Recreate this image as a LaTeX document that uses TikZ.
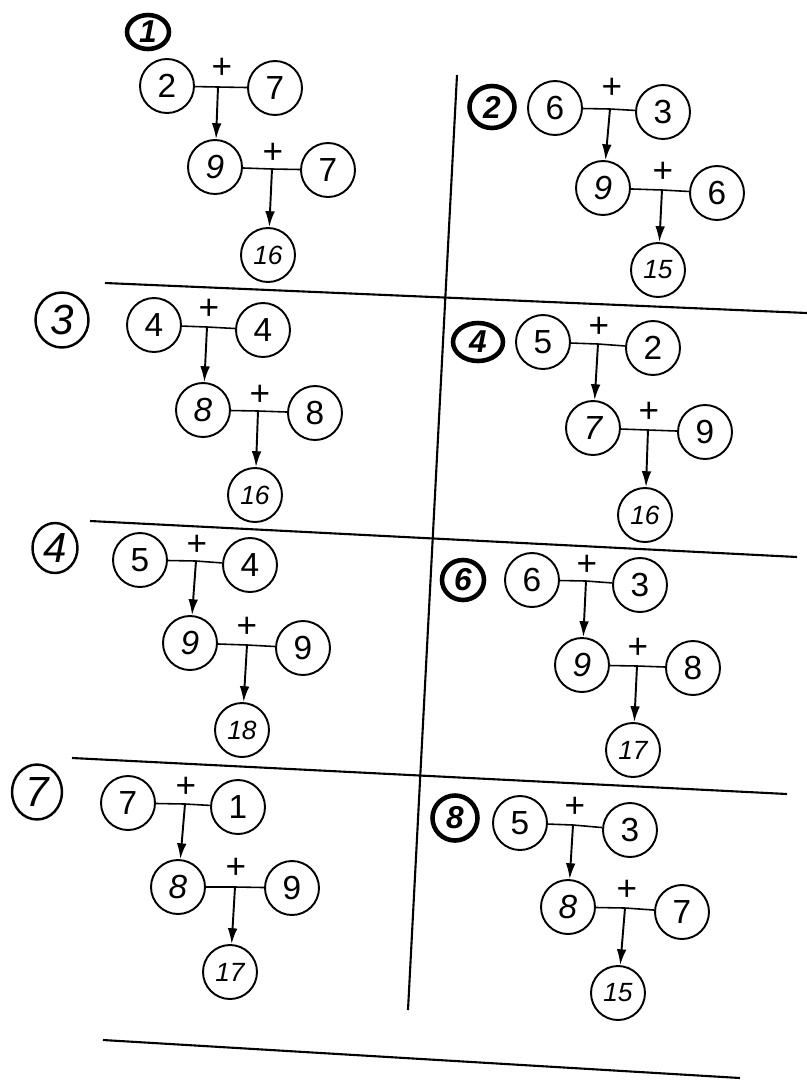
\documentclass[tikz,border=0pt]{standalone}
\usepackage{fontspec}
\setmainfont{Liberation Sans}
\usetikzlibrary{arrows.meta,shapes.geometric}
\tikzset{
  given/.style={draw, circle, line width=1.1pt, minimum size=1.08cm, inner sep=0pt, font=\fontsize{19}{19}\selectfont},
  sumnum/.style={given, font=\fontsize{19}{19}\selectfont\itshape},
  resnum/.style={given, font=\fontsize{15}{15}\selectfont\itshape},
  plussign/.style={inner sep=0pt, font=\fontsize{20}{20}\selectfont},
  boldtag/.style={draw, ellipse, line width=2.6pt, inner sep=0pt, font=\fontsize{18}{18}\selectfont\bfseries\itshape},
  thintag/.style={draw, ellipse, line width=1.4pt, inner sep=0pt, font=\fontsize{24}{24}\selectfont\itshape},
  link/.style={line width=0.9pt},
  carry/.style={line width=1.1pt, -{Latex[length=9pt,width=5.5pt]}},
  divider/.style={line width=1.2pt}
}
\begin{document}
\begin{tikzpicture}[x=0.02cm, y=-0.02cm]
  \useasboundingbox (0,0) rectangle (807,1080);

  \draw[divider] (105,283) -- (807,313);
  \draw[divider] (90,521) -- (797,557);
  \draw[divider] (72,758) -- (787,794);
  \draw[divider] (103,1040) -- (740,1078);
  \draw[divider] (457,75) -- (408,1010);

  \node[boldtag, minimum width=0.84cm, minimum height=0.68cm] (t1) at (148,32) {1};
  \node[given] (a1) at (167,86) {2};
  \node[given] (b1) at (275,88) {7};
  \node[sumnum] (c1) at (215,167) {9};
  \node[given] (d1) at (328,170) {7};
  \node[resnum] (r1) at (268,255) {16};
  \coordinate (j1) at (218,87);
  \coordinate (k1) at (272,169);
  \node[plussign] (p1) at (222,68) {+};
  \node[plussign] (q1) at (273,153) {+};
  \draw[link] (a1) -- (j1) -- (b1);
  \draw[carry] (j1) -- (c1);
  \draw[link] (c1) -- (k1) -- (d1);
  \draw[carry] (k1) -- (r1);

  \node[boldtag, minimum width=0.9cm, minimum height=0.84cm] (t2) at (492,107) {2};
  \node[given] (a2) at (555,108) {6};
  \node[given] (b2) at (663,112) {3};
  \node[sumnum] (c2) at (603,188) {9};
  \node[given] (d2) at (717,193) {6};
  \node[resnum] (r2) at (658,270) {15};
  \coordinate (j2) at (610,109);
  \coordinate (k2) at (662,190);
  \node[plussign] (p2) at (612,88) {+};
  \node[plussign] (q2) at (663,172) {+};
  \draw[link] (a2) -- (j2) -- (b2);
  \draw[carry] (j2) -- (c2);
  \draw[link] (c2) -- (k2) -- (d2);
  \draw[carry] (k2) -- (r2);

  \node[thintag, minimum width=1.06cm, minimum height=1.1cm] (t3) at (62,320) {3};
  \node[given] (a3) at (154,325) {4};
  \node[given] (b3) at (263,330) {4};
  \node[sumnum] (c3) at (203,410) {8};
  \node[given] (d3) at (315,413) {8};
  \node[resnum] (r3) at (255,495) {16};
  \coordinate (j3) at (207,327);
  \coordinate (k3) at (258,411);
  \node[plussign] (p3) at (209,309) {+};
  \node[plussign] (q3) at (260,395) {+};
  \draw[link] (a3) -- (j3) -- (b3);
  \draw[carry] (j3) -- (c3);
  \draw[link] (c3) -- (k3) -- (d3);
  \draw[carry] (k3) -- (r3);

  \node[boldtag, minimum width=1.0cm, minimum height=0.76cm] (t4) at (478,342) {4};
  \node[given] (a4) at (543,342) {5};
  \node[given] (b4) at (653,348) {2};
  \node[sumnum] (c4) at (593,428) {7};
  \node[given] (d4) at (705,432) {9};
  \node[resnum] (r4) at (645,515) {16};
  \coordinate (j4) at (598,344);
  \coordinate (k4) at (648,430);
  \node[plussign] (p4) at (599,327) {+};
  \node[plussign] (q4) at (649,412) {+};
  \draw[link] (a4) -- (j4) -- (b4);
  \draw[carry] (j4) -- (c4);
  \draw[link] (c4) -- (k4) -- (d4);
  \draw[carry] (k4) -- (r4);

  \node[thintag, minimum width=0.9cm, minimum height=1.0cm] (t5) at (55,548) {4};
  \node[given] (a5) at (140,560) {5};
  \node[given] (b5) at (250,565) {4};
  \node[sumnum] (c5) at (190,643) {9};
  \node[given] (d5) at (303,648) {9};
  \node[resnum] (r5) at (242,730) {18};
  \coordinate (j5) at (196,561);
  \coordinate (k5) at (247,645);
  \node[plussign] (p5) at (197,545) {+};
  \node[plussign] (q5) at (247,627) {+};
  \draw[link] (a5) -- (j5) -- (b5);
  \draw[carry] (j5) -- (c5);
  \draw[link] (c5) -- (k5) -- (d5);
  \draw[carry] (k5) -- (r5);

  \node[boldtag, minimum width=0.84cm, minimum height=0.8cm] (t6) at (463,580) {6};
  \node[given] (a6) at (532,580) {6};
  \node[given] (b6) at (640,585) {3};
  \node[sumnum] (c6) at (582,665) {9};
  \node[given] (d6) at (693,668) {8};
  \node[resnum] (r6) at (633,750) {17};
  \coordinate (j6) at (586,581);
  \coordinate (k6) at (637,666);
  \node[plussign] (p6) at (587,565) {+};
  \node[plussign] (q6) at (638,648) {+};
  \draw[link] (a6) -- (j6) -- (b6);
  \draw[carry] (j6) -- (c6);
  \draw[link] (c6) -- (k6) -- (d6);
  \draw[carry] (k6) -- (r6);

  \node[thintag, minimum width=1.0cm, minimum height=1.1cm] (t7) at (37,792) {7};
  \node[given] (a7) at (128,803) {7};
  \node[given] (b7) at (238,807) {1};
  \node[sumnum] (c7) at (178,887) {8};
  \node[given] (d7) at (292,888) {9};
  \node[resnum] (r7) at (230,972) {17};
  \coordinate (j7) at (185,804);
  \coordinate (k7) at (235,887);
  \node[plussign] (p7) at (186,787) {+};
  \node[plussign] (q7) at (236,868) {+};
  \draw[link] (a7) -- (j7) -- (b7);
  \draw[carry] (j7) -- (c7);
  \draw[link] (c7) -- (k7) -- (d7);
  \draw[carry] (k7) -- (r7);

  \node[boldtag, minimum width=0.9cm, minimum height=0.9cm] (t8) at (455,818) {8};
  \node[given] (a8) at (520,823) {5};
  \node[given] (b8) at (630,830) {3};
  \node[sumnum] (c8) at (568,907) {8};
  \node[given] (d8) at (682,912) {7};
  \node[resnum] (r8) at (618,993) {15};
  \coordinate (j8) at (573,825);
  \coordinate (k8) at (625,908);
  \node[plussign] (p8) at (575,807) {+};
  \node[plussign] (q8) at (627,890) {+};
  \draw[link] (a8) -- (j8) -- (b8);
  \draw[carry] (j8) -- (c8);
  \draw[link] (c8) -- (k8) -- (d8);
  \draw[carry] (k8) -- (r8);
\end{tikzpicture}
\end{document}
